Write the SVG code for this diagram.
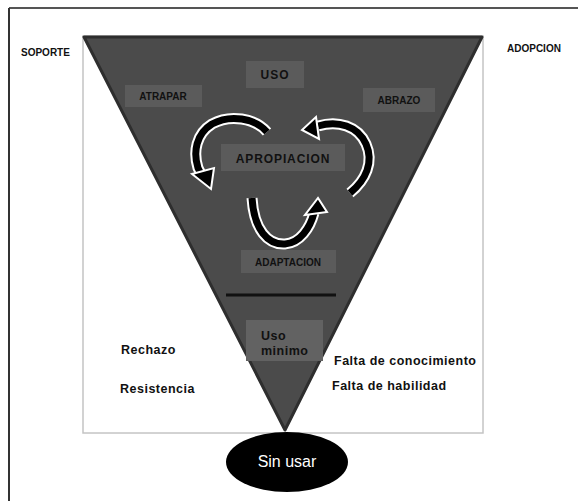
<svg xmlns="http://www.w3.org/2000/svg" width="578" height="501" viewBox="0 0 578 501">
<style>
.lbl{font-family:"Liberation Sans",Arial,sans-serif;font-weight:bold;fill:#111;}
.box{fill:#5b5b5b;}
.side{font-family:"Liberation Sans",Arial,sans-serif;font-weight:bold;fill:#111;font-size:10px;}
.out{font-family:"Liberation Sans",Arial,sans-serif;font-weight:bold;fill:#111;font-size:12.5px;letter-spacing:0.5px;}
.arrW{fill:none;stroke:#fff;stroke-width:11;}
.arrB{fill:none;stroke:#000;stroke-width:7;}
.head{fill:#000;stroke:#fff;stroke-width:2;stroke-linejoin:miter;}
</style>
<rect x="0" y="0" width="578" height="501" fill="#fff"/>
<g id="frame">
<line x1="9" y1="8" x2="578" y2="8" stroke="#555" stroke-width="2"/>
<line x1="9" y1="8" x2="9" y2="501" stroke="#333" stroke-width="2"/>
<rect x="83" y="36" width="400" height="397" fill="#fff" stroke="#c4c4c4" stroke-width="1.5"/>
</g>
<g id="funnel">
<polygon points="84,37 482,37 285,430" fill="#4b4b4b" stroke="#2e2e2e" stroke-width="3" stroke-linejoin="round"/>
</g>
<g id="soporte"><text class="side" x="21" y="56">SOPORTE</text></g>
<g id="adopcion"><text class="side" x="507" y="52">ADOPCION</text></g>
<g id="uso">
<rect class="box" x="246" y="61" width="58" height="27"/>
<text class="lbl" x="275" y="79" font-size="12" letter-spacing="1" text-anchor="middle">USO</text>
</g>
<g id="atrapar">
<rect class="box" x="125" y="85" width="77" height="22"/>
<text class="lbl" x="163" y="100" font-size="10" text-anchor="middle">ATRAPAR</text>
</g>
<g id="abrazo">
<rect class="box" x="363" y="88" width="72" height="24"/>
<text class="lbl" x="399" y="104" font-size="10" text-anchor="middle">ABRAZO</text>
</g>
<g id="apropiacion">
<rect class="box" x="221" y="144" width="124" height="27"/>
<text class="lbl" x="283" y="163" font-size="12" letter-spacing="0.9" text-anchor="middle">APROPIACION</text>
</g>
<g id="adaptacion">
<rect class="box" x="241" y="250" width="95" height="23"/>
<text class="lbl" x="288" y="266" font-size="10" text-anchor="middle">ADAPTACION</text>
</g>
<g id="divider"><line x1="226" y1="295" x2="336" y2="295" stroke="#111" stroke-width="3"/></g>
<g id="uso-minimo">
<rect x="246" y="320" width="77" height="41" fill="#626262"/>
<text class="lbl" x="261" y="340" font-size="12.5" letter-spacing="0.5">Uso</text>
<text class="lbl" x="261" y="355" font-size="12.5" letter-spacing="0.5">minimo</text>
</g>
<g id="rechazo"><text class="out" x="121" y="354">Rechazo</text></g>
<g id="resistencia"><text class="out" x="120" y="393">Resistencia</text></g>
<g id="falta-conocimiento"><text class="out" x="334" y="365">Falta de conocimiento</text></g>
<g id="falta-habilidad"><text class="out" x="332" y="390">Falta de habilidad</text></g>
<g id="sin-usar">
<ellipse cx="287" cy="462" rx="61" ry="30" fill="#000"/>
<text x="287" y="467" font-family="'Liberation Sans Narrow','Liberation Sans',Arial,sans-serif" font-size="16" fill="#fff" text-anchor="middle">Sin usar</text>
</g>
<g id="connectors">
<path class="arrW" d="M267,132 C255,118 230,114 212,124 C196,134 193,152 198,168 L202,176"/>
<path class="arrB" d="M267,132 C255,118 230,114 212,124 C196,134 193,152 198,168 L202,176"/>
<polygon class="head" points="192,174 214,168 211,189"/>
<path class="arrW" d="M350,193 C366,180 374,162 366,144 C358,126 338,120 318,126"/>
<path class="arrB" d="M350,193 C366,180 374,162 366,144 C358,126 338,120 318,126"/>
<polygon class="head" points="316,117 319,139 302,130"/>
<path class="arrW" d="M252,198 C254,230 268,245 285,244 C300,243 310,228 314,213"/>
<path class="arrB" d="M252,198 C254,230 268,245 285,244 C300,243 310,228 314,213"/>
<polygon class="head" points="305,215 327,212 318,198"/>
</g>
</svg>
